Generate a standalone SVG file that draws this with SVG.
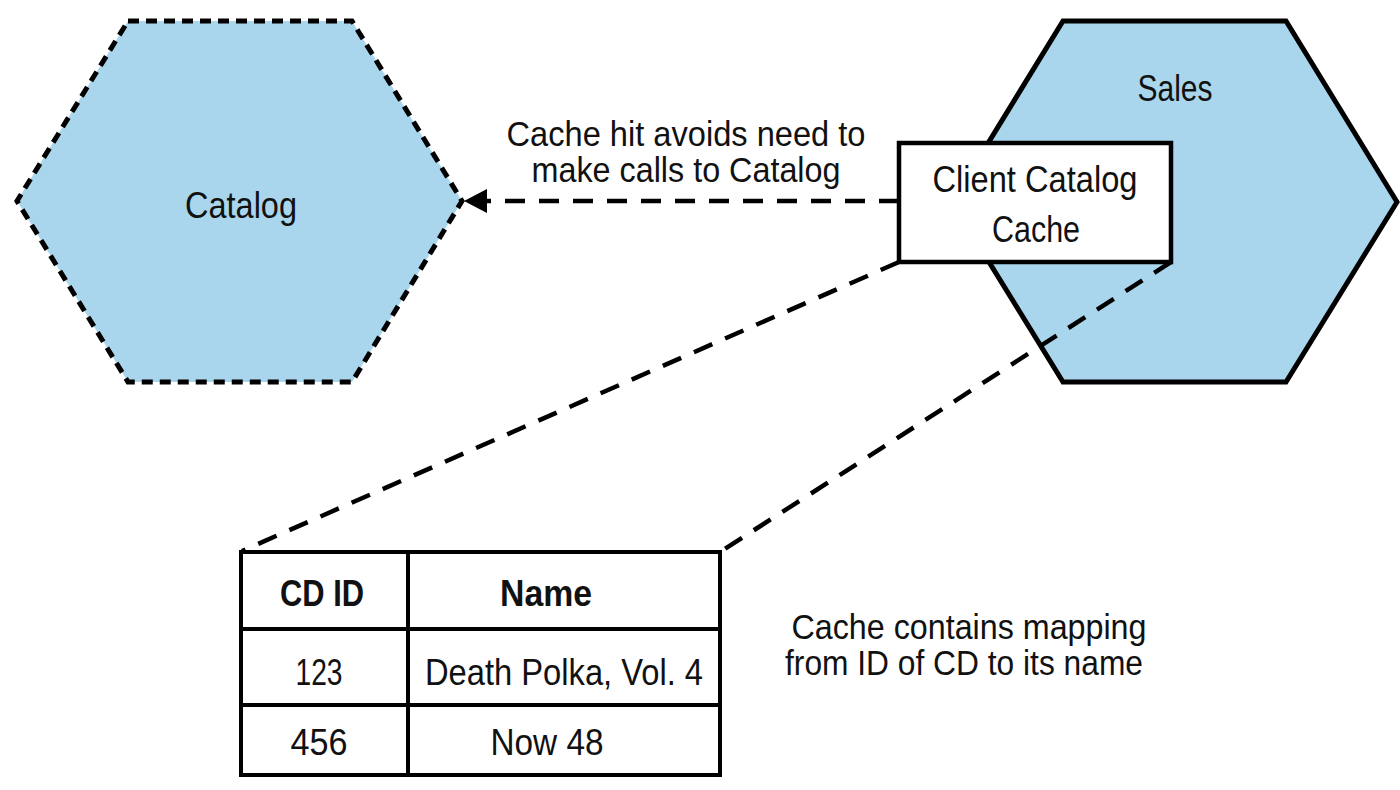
<svg xmlns="http://www.w3.org/2000/svg" width="1400" height="790" viewBox="0 0 1400 790">
<style>
.t{font-family:"Liberation Sans",Arial,sans-serif;font-size:37px;fill:#111;text-anchor:middle}
.s{font-size:35px}
.b{font-weight:bold}
.hex{fill:#a9d6ec;stroke:#000;stroke-width:5}
.dash{stroke:#000;stroke-width:4.5;fill:none;stroke-dasharray:20 14}
.grid{stroke:#000;stroke-width:4;fill:none}
</style>
<rect width="1400" height="790" fill="#fff"/>
<g id="catalog">
<polygon class="hex" points="128,21 352,21 462,201 352,382 128,382 17,201" style="stroke-dasharray:11 7"/>
<text class="t" x="241" y="218" textLength="112" lengthAdjust="spacingAndGlyphs">Catalog</text>
</g>
<g id="sales">
<polygon class="hex" points="1063,21 1286,21 1397,202 1286,382 1063,382 952,202"/>
<text class="t" x="1175" y="101" textLength="75" lengthAdjust="spacingAndGlyphs">Sales</text>
</g>
<g id="connectors">
<line class="dash" x1="899" y1="201" x2="486" y2="201"/>
<polygon points="464,201 487,189 487,213" fill="#000"/>
<line class="dash" x1="899" y1="262" x2="242" y2="551"/>
<line class="dash" x1="1171" y1="262" x2="720" y2="552"/>
</g>
<g id="client-cache">
<rect x="899" y="143" width="272" height="119" fill="#fff" stroke="#000" stroke-width="4.5"/>
<text class="t" x="1035" y="192" textLength="205" lengthAdjust="spacingAndGlyphs">Client Catalog</text>
<text class="t" x="1036" y="242" textLength="88" lengthAdjust="spacingAndGlyphs">Cache</text>
</g>
<g id="label-hit">
<text class="t s" x="686" y="146" textLength="359" lengthAdjust="spacingAndGlyphs">Cache hit avoids need to</text>
<text class="t s" x="686" y="182" textLength="309" lengthAdjust="spacingAndGlyphs">make calls to Catalog</text>
</g>
<g id="table">
<rect class="grid" x="241" y="552" width="479" height="223" fill="#fff"/>
<line class="grid" x1="408" y1="552" x2="408" y2="775"/>
<line class="grid" x1="241" y1="629" x2="720" y2="629"/>
<line class="grid" x1="241" y1="705" x2="720" y2="705"/>
<text class="t b" x="322" y="606" textLength="84" lengthAdjust="spacingAndGlyphs">CD ID</text>
<text class="t b" x="546" y="606" textLength="92" lengthAdjust="spacingAndGlyphs">Name</text>
<text class="t" x="319" y="685" textLength="47" lengthAdjust="spacingAndGlyphs">123</text>
<text class="t" x="564" y="685" textLength="278" lengthAdjust="spacingAndGlyphs">Death Polka, Vol. 4</text>
<text class="t" x="319" y="755" textLength="57" lengthAdjust="spacingAndGlyphs">456</text>
<text class="t" x="547" y="755" textLength="113" lengthAdjust="spacingAndGlyphs">Now 48</text>
</g>
<g id="label-mapping">
<text class="t s" x="969" y="639" textLength="355" lengthAdjust="spacingAndGlyphs">Cache contains mapping</text>
<text class="t s" x="964" y="675" textLength="358" lengthAdjust="spacingAndGlyphs">from ID of CD to its name</text>
</g>
</svg>
